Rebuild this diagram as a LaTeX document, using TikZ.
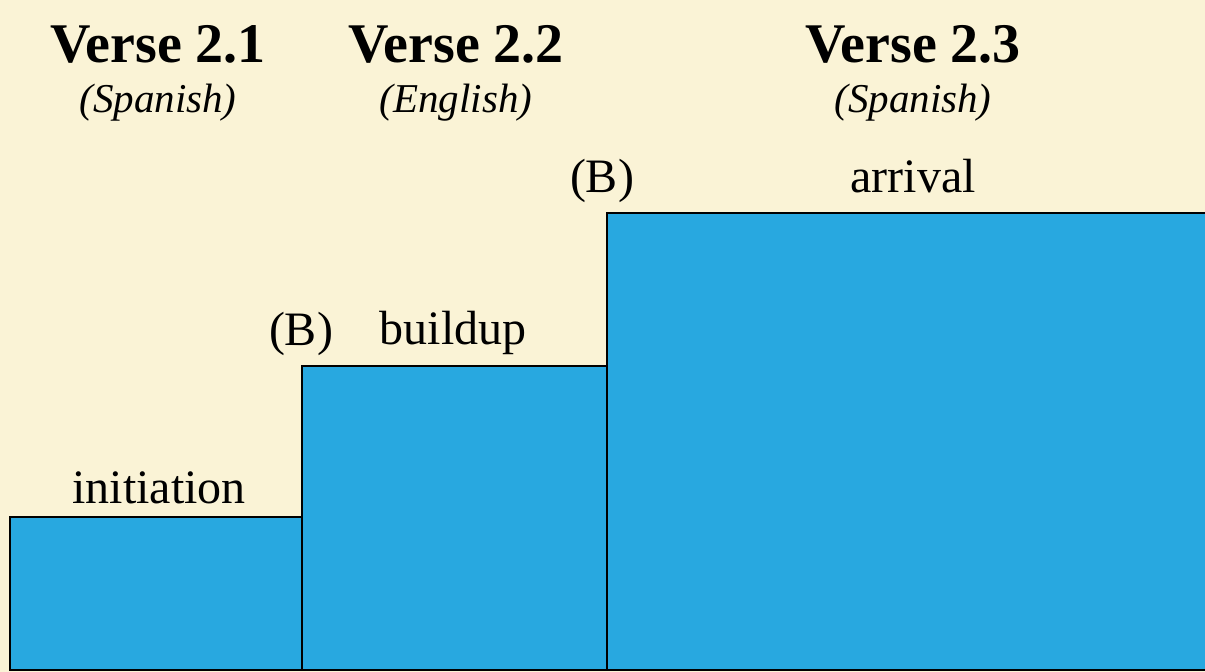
\documentclass[tikz,border=0pt]{standalone}
\usepackage{fontspec}
\IfFontExistsTF{LiberationSerif-Regular.ttf}{%
  \setmainfont{LiberationSerif}[Extension=.ttf, UprightFont=*-Regular,
    BoldFont=*-Bold, ItalicFont=*-Italic, BoldItalicFont=*-BoldItalic]}{%
  \setmainfont{Liberation Serif}}
\usepackage{tikz}

\definecolor{paper}{RGB}{250,243,214}
\definecolor{stepblue}{RGB}{40,168,224}

\begin{document}
\begin{tikzpicture}[x=1pt, y=-1pt]
\tikzstyle{every node} = [inner sep=0, anchor=base]
\tikzstyle{verse} = [font=\fontsize{56}{60}\selectfont\bfseries]
\tikzstyle{lang} = [font=\fontsize{41}{44}\selectfont\itshape]
\tikzstyle{lbl} = [font=\fontsize{48}{52}\selectfont]
\tikzstyle{bar} = [fill=stepblue, draw=black, line width=2.5pt]

\useasboundingbox (0,0) rectangle (1205,672);
\clip (0,0) rectangle (1205,672);
\fill[paper] (0,0) rectangle (1205,672);

% steps
\draw[bar] (10,517) rectangle (302,670);
\draw[bar] (302,366) rectangle (607,670);
\draw[bar] (607,213) rectangle (1215,670);

% headings
\node[verse] (v1) at (158,62) {Verse 2.1};
\node[lang] (s1) at (158,112) {(Spanish)};
\node[verse] (v2) at (456,62) {Verse 2.2};
\node[lang] (e2) at (456,112) {(English)};
\node[verse] (v3) at (913,62) {Verse 2.3};
\node[lang] (s3) at (913,112) {(Spanish)};

% labels
\node[lbl] (init) at (159,503) {initiation};
\node[lbl] (b1) at (301,345) {(B)};
\node[lbl] (build) at (453,344) {buildup};
\node[lbl] (b2) at (602,192) {(B)};
\node[lbl] (arr) at (913,192) {arrival};
\end{tikzpicture}
\end{document}
